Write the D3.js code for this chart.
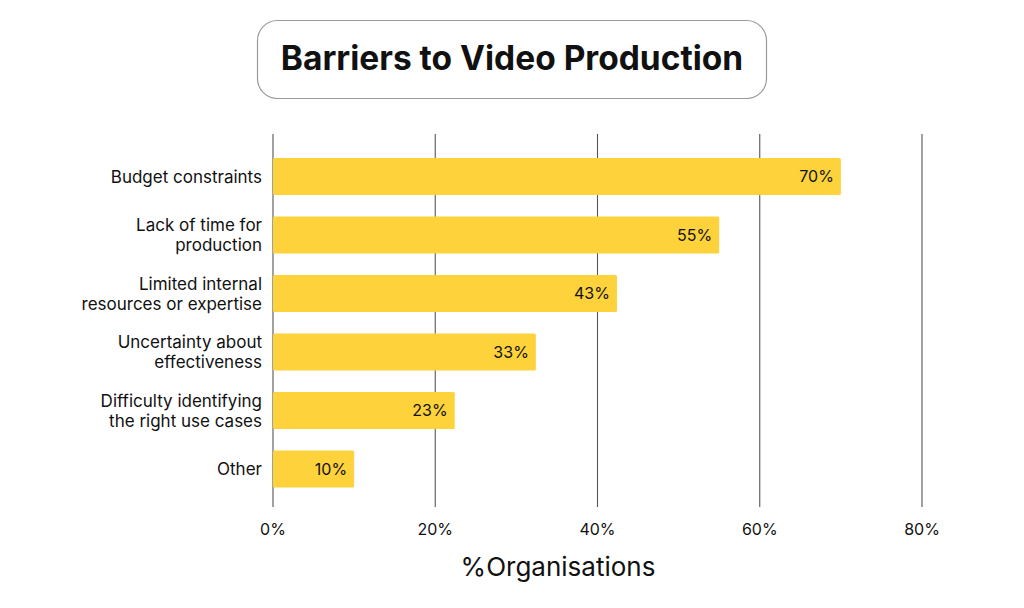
<!DOCTYPE html>
<html>
<head>
<meta charset="utf-8">
<script src="https://cdn.jsdelivr.net/npm/d3@7/dist/d3.min.js"></script>
<style>
  html, body { margin: 0; padding: 0; background: #fff; }
  svg { display: block; }
  text { font-family: Inter, "Noto Sans", sans-serif; fill: #111; }
</style>
</head>
<body>
<svg id="chart" width="1024" height="608"></svg>
<script>
const title = "Barriers to Video Production";
const axisTitle = "%Organisations";
const categories = [
  ["Budget constraints"],
  ["Lack of time for", "production"],
  ["Limited internal", "resources or expertise"],
  ["Uncertainty about", "effectiveness"],
  ["Difficulty identifying", "the right use cases"],
  ["Other"]
];
const values = [70, 55, 42.4, 32.4, 22.4, 10];
const valueLabels = ["70%", "55%", "43%", "33%", "23%", "10%"];
const ticks = [0, 20, 40, 60, 80];
const tickLabels = ["0%", "20%", "40%", "60%", "80%"];

const svg = d3.select("#chart");

// Title box
svg.append("rect")
  .attr("x", 257.5).attr("y", 20.5)
  .attr("width", 509).attr("height", 78)
  .attr("rx", 20).attr("ry", 20)
  .attr("fill", "#fff").attr("stroke", "#9a9a9a").attr("stroke-width", 1.2);
svg.append("text")
  .attr("x", 512).attr("y", 70)
  .attr("text-anchor", "middle")
  .attr("font-size", 33.5).attr("font-weight", 700)
  .attr("fill", "#0a0a0a")
  .text(title);

const x = d3.scaleLinear().domain([0, 80]).range([273, 922]);
const y = d3.scaleBand()
  .domain(d3.range(categories.length))
  .range([136.5, 509])
  .paddingInner(0.3675).paddingOuter(0.3675);

// Gridlines
svg.append("g").selectAll("line").data(ticks).join("line")
  .attr("x1", d => x(d)).attr("x2", d => x(d))
  .attr("y1", 134).attr("y2", 507)
  .attr("stroke", "#555").attr("stroke-width", 1.1);

// Tick labels
svg.append("g").selectAll("text").data(ticks).join("text")
  .attr("x", d => x(d)).attr("y", 535)
  .attr("text-anchor", "middle")
  .attr("font-size", 16)
  .text((d, i) => tickLabels[i]);

// Bars
svg.append("g").selectAll("rect").data(values).join("rect")
  .attr("x", x(0))
  .attr("y", (d, i) => y(i))
  .attr("width", d => x(d) - x(0))
  .attr("height", y.bandwidth())
  .attr("rx", 1.5)
  .attr("fill", "#FED23A");

// Value labels
svg.append("g").selectAll("text").data(values).join("text")
  .attr("x", d => x(d) - 7)
  .attr("y", (d, i) => y(i) + y.bandwidth() / 2)
  .attr("dy", "0.36em")
  .attr("text-anchor", "end")
  .attr("font-size", 16)
  .text((d, i) => valueLabels[i]);

// Category labels
const cat = svg.append("g").selectAll("text").data(categories).join("text")
  .attr("text-anchor", "end")
  .attr("font-size", 17)
  .attr("y", (d, i) => y(i) + y.bandwidth() / 2);
cat.each(function(lines) {
  const t = d3.select(this);
  const lh = 20;
  const off = -(lines.length - 1) * lh / 2;
  lines.forEach((ln, k) => {
    t.append("tspan")
      .attr("x", 262)
      .attr("dy", k === 0 ? (off / 17 + 0.36) + "em" : lh + "px")
      .text(ln);
  });
});

// Axis title
svg.append("text")
  .attr("x", 558).attr("y", 576)
  .attr("text-anchor", "middle")
  .attr("font-size", 26)
  .text(axisTitle);
</script>
</body>
</html>
